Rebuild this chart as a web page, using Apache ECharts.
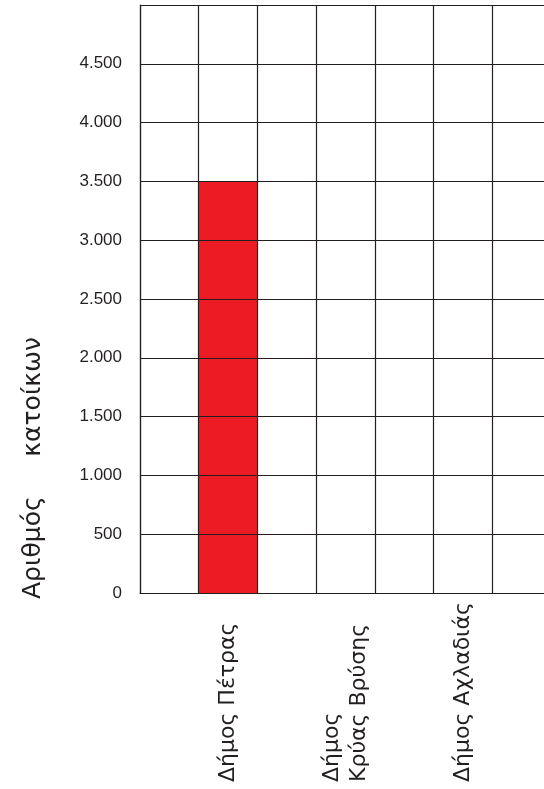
<!DOCTYPE html>
<html>
<head>
<meta charset="utf-8">
<script src="https://cdn.jsdelivr.net/npm/echarts@6/dist/echarts.min.js"></script>
<style>
html,body{margin:0;padding:0;background:#fff;}
#chart{width:544px;height:789px;}
</style>
</head>
<body>
<div id="chart"></div>
<script>
var categories = ['Δήμος Πέτρας', 'Δήμος\nΚρύας Βρύσης', 'Δήμος Αχλαδιάς'];
var population = [3500, 0, 0];
var yTickLabels = ['0', '500', '1.000', '1.500', '2.000', '2.500', '3.000', '3.500', '4.000', '4.500', ''];
var yTitleWords = ['Αριθμός', 'κατοίκων'];

// Each municipality sits in every second column of the grid
var slots = [], slotValues = [];
for (var i = 0; i < categories.length; i++) {
  slots.push(' ' + i);
  slotValues.push(null);
  slots.push(categories[i]);
  slotValues.push(population[i]);
}
slots.push(' end');
slotValues.push(null);

var ink = '#231F20';
var chart = echarts.init(document.getElementById('chart'));
chart.setOption({
  animation: false,
  grid: {left: 140, width: 411, top: 5, bottom: 196, outerBoundsMode: 'none', containLabel: false},
  xAxis: {
    type: 'category',
    data: slots,
    boundaryGap: true,
    z: 3,
    axisLine: {show: true, lineStyle: {color: ink, width: 1.2}},
    axisTick: {show: false},
    splitLine: {show: true, interval: 0, lineStyle: {color: ink, width: 1.2}},
    axisLabel: {
      interval: 0,
      rotate: 90,
      margin: 7,
      width: 182,
      overflow: 'none',
      formatter: function (v) {
        if (v.charAt(0) === ' ') return '';
        return v.split('\n').map(function (l) { return '{a|' + l + '}'; }).join('\n');
      },
      rich: {
        a: {align: 'left', fontSize: 22, lineHeight: 27, color: ink, fontFamily: 'DejaVu Sans'}
      }
    }
  },
  yAxis: {
    type: 'value',
    min: 0,
    max: 5000,
    interval: 500,
    z: 3,
    axisLine: {show: true, lineStyle: {color: ink, width: 1.2}},
    axisTick: {show: false},
    splitLine: {show: true, lineStyle: {color: ink, width: 1.2}},
    axisLabel: {
      margin: 18,
      fontSize: 17,
      color: ink,
      fontFamily: 'Liberation Sans',
      formatter: function (v) { return yTickLabels[Math.round(v / 500)]; }
    }
  },
  series: [{
    type: 'bar',
    data: slotValues,
    barWidth: '100%',
    itemStyle: {color: '#ED1C24'}
  }],
  graphic: [{
    type: 'text',
    x: 33,
    y: 468,
    rotation: Math.PI / 2,
    style: {
      text: yTitleWords.join('     '),
      fontSize: 25,
      fill: ink,
      fontFamily: 'DejaVu Sans',
      align: 'center',
      verticalAlign: 'middle'
    }
  }]
});
</script>
</body>
</html>
